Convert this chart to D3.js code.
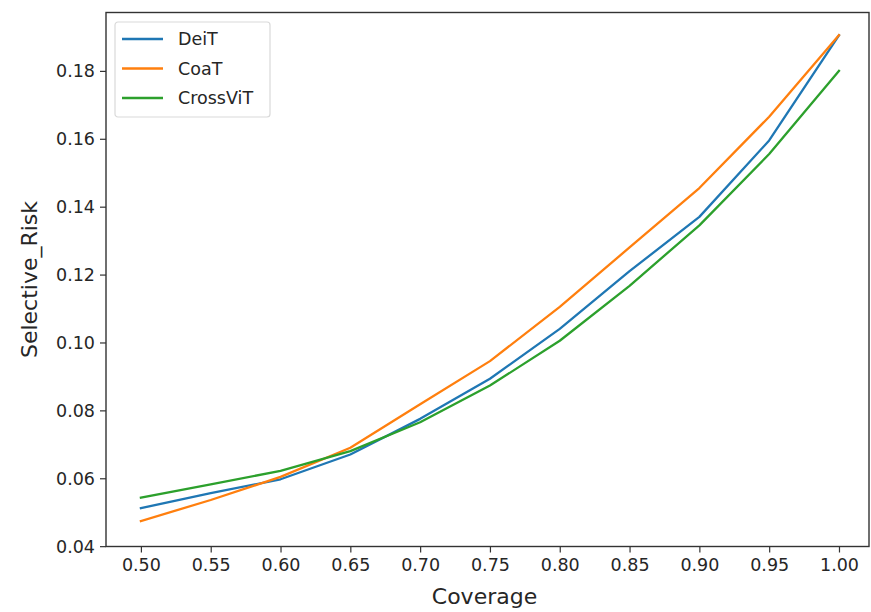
<!DOCTYPE html>
<html>
<head>
<meta charset="utf-8">
<script src="https://cdn.jsdelivr.net/npm/d3@7"></script>
<style>
  body { margin: 0; background: #fff; overflow: hidden; }
  svg { display: block; }
  text { font-family: "DejaVu Sans", sans-serif; fill: #262626; }
</style>
</head>
<body>
<div id="chart"></div>
<script>
// data
const coverage = [0.50, 0.55, 0.60, 0.65, 0.70, 0.75, 0.80, 0.85, 0.90, 0.95, 1.00];
const deit = [0.0512, 0.0556, 0.0597, 0.0670, 0.0775, 0.0893, 0.1040, 0.1210, 0.1370, 0.1595, 0.1905];
const coat = [0.0474, 0.0536, 0.0604, 0.0690, 0.0818, 0.0945, 0.1105, 0.1280, 0.1455, 0.1665, 0.1905];
const crossvit = [0.0543, 0.0582, 0.0622, 0.0680, 0.0765, 0.0873, 0.1005, 0.1167, 0.1345, 0.1555, 0.1800];
const seriesNames = ['DeiT', 'CoaT', 'CrossViT'];
const xTicks = [0.50, 0.55, 0.60, 0.65, 0.70, 0.75, 0.80, 0.85, 0.90, 0.95, 1.00];
const yTicks = [0.04, 0.06, 0.08, 0.10, 0.12, 0.14, 0.16, 0.18];

const width = 871, height = 612;
const marginLeft = 106, marginTop = 12.5, marginRight = 2, marginBottom = 65.5;
const innerWidth = width - marginLeft - marginRight;
const innerHeight = height - marginTop - marginBottom;
const colors = ['#1f77b4', '#ff7f0e', '#2ca02c'];
const allSeries = [deit, coat, crossvit];

const svg = d3.select('#chart').append('svg')
  .attr('width', width).attr('height', height);

const chart = svg.append('g')
  .attr('transform', 'translate(' + marginLeft + ',' + marginTop + ')');

const x = d3.scaleLinear().domain([0.475, 1.0215]).range([0, innerWidth]);
const y = d3.scaleLinear().domain([0.0399, 0.1972]).range([innerHeight, 0]);

// lines
const line = d3.line()
  .x((d, i) => x(coverage[i]))
  .y((d) => y(d));

allSeries.forEach((s, k) => {
  chart.append('path')
    .datum(s)
    .attr('fill', 'none')
    .attr('stroke', colors[k])
    .attr('stroke-width', 2.3)
    .attr('stroke-linejoin', 'round')
    .attr('stroke-linecap', 'square')
    .attr('d', line);
});

// axes
const xAxis = chart.append('g')
  .attr('transform', 'translate(0,' + innerHeight + ')')
  .call(d3.axisBottom(x).tickValues(xTicks).tickFormat(d3.format('.2f')).tickSize(6).tickPadding(5));
const yAxis = chart.append('g')
  .call(d3.axisLeft(y).tickValues(yTicks).tickFormat(d3.format('.2f')).tickSize(6).tickPadding(5));
[xAxis, yAxis].forEach((g) => {
  g.select('.domain').remove();
  g.selectAll('line').attr('stroke', '#333').attr('stroke-width', 1.2);
  g.selectAll('text').attr('font-size', 17.5).attr('fill', '#262626')
    .style('font-family', '"DejaVu Sans", sans-serif');
});
// fixed pixel offsets instead of em based dy
xAxis.selectAll('text').attr('dy', null).attr('y', 24);
yAxis.selectAll('text').attr('dy', null).attr('dominant-baseline', 'central');

// frame
chart.append('rect')
  .attr('width', innerWidth).attr('height', innerHeight)
  .attr('fill', 'none').attr('stroke', '#333').attr('stroke-width', 1.4);

// axis titles
svg.append('text')
  .attr('x', marginLeft + innerWidth / 2 - 3)
  .attr('y', 604)
  .attr('text-anchor', 'middle')
  .attr('font-size', 22)
  .text('Coverage');
svg.append('text')
  .attr('transform', 'translate(37,' + (marginTop + innerHeight / 2) + ') rotate(-90)')
  .attr('text-anchor', 'middle')
  .attr('font-size', 22)
  .text('Selective_Risk');

// legend
const legend = chart.append('g').attr('transform', 'translate(9,9.5)');
legend.append('rect')
  .attr('width', 155).attr('height', 95).attr('rx', 3)
  .attr('fill', '#fff').attr('fill-opacity', 0.8)
  .attr('stroke', '#d9d9d9').attr('stroke-width', 1.2);
seriesNames.forEach((name, k) => {
  const row = legend.append('g').attr('transform', 'translate(0,' + (17 + k * 29.5) + ')');
  row.append('line')
    .attr('x1', 7).attr('x2', 48)
    .attr('stroke', colors[k]).attr('stroke-width', 2.3);
  row.append('text')
    .attr('x', 63).attr('y', 6)
    .attr('font-size', 17.5)
    .text(name);
});
</script>
</body>
</html>
